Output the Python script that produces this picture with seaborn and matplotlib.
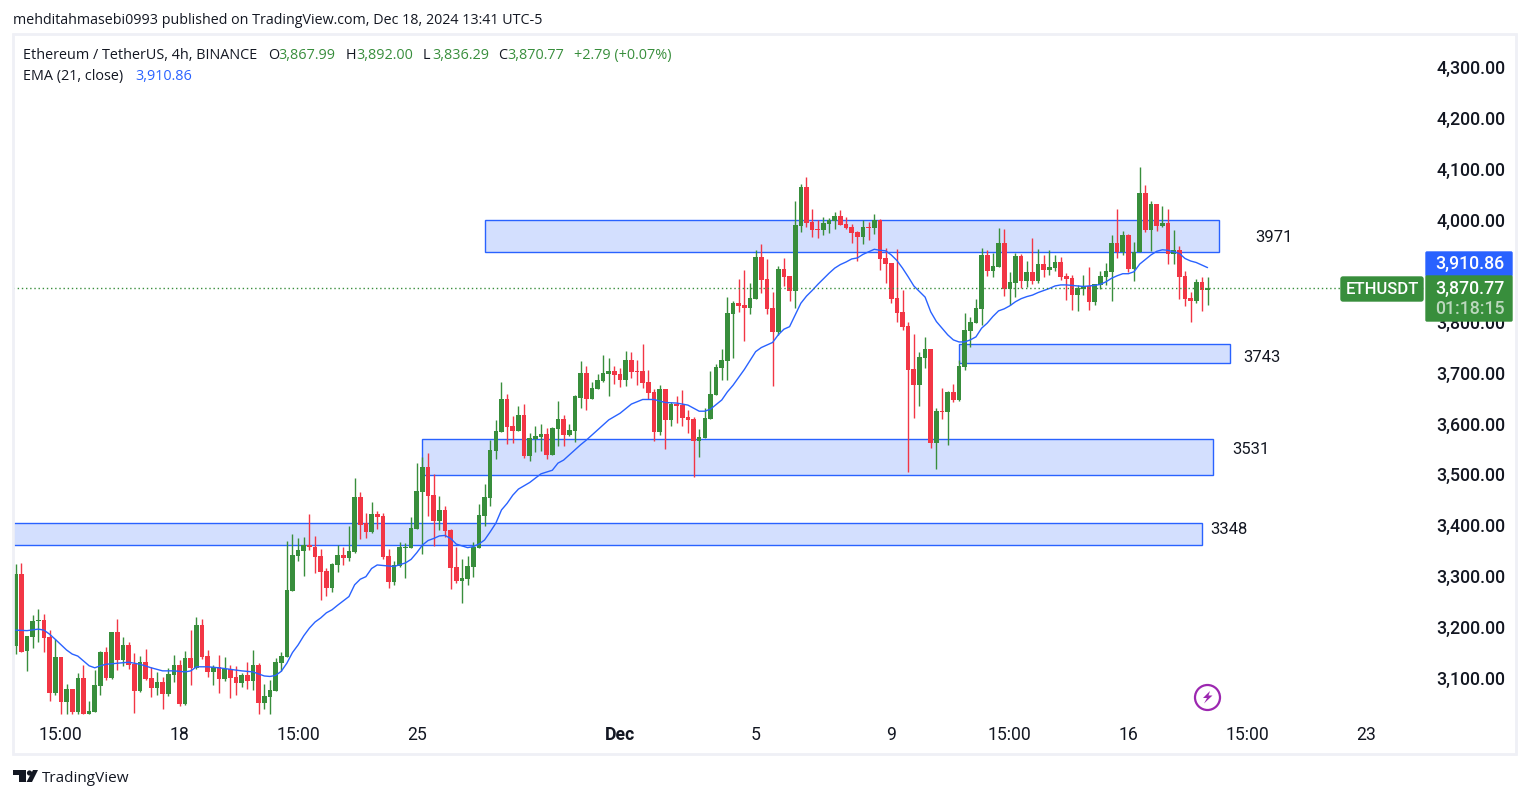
import pandas as pd
import matplotlib.pyplot as plt
import seaborn as sns
from matplotlib.patches import Rectangle, Circle, Polygon, FancyBboxPatch

# Candles, 4h ETHUSDT
opens = [3162,3304,3153,3181,3212,3214,3181,3071,3141,3053,
         3078,3033,3100,3029,3033,3084,3151,3100,3190,3135,
         3165,3128,3074,3131,3100,3080,3092,3069,3106,3126,
         3049,3139,3120,3204,3143,3112,3122,3098,3118,3102,
         3090,3106,3094,3126,3051,3063,3074,3129,3141,3271,
         3339,3349,3361,3357,3340,3310,3277,3322,3342,3336,
         3347,3455,3404,3387,3422,3418,3340,3289,3320,3355,
         3355,3393,3465,3514,3459,3408,3430,3391,3318,3291,
         3294,3318,3355,3418,3453,3546,3583,3648,3595,3585,
         3617,3536,3569,3573,3579,3538,3589,3609,3577,3585,
         3650,3699,3648,3668,3683,3697,3703,3697,3685,3724,
         3703,3703,3681,3662,3583,3668,3607,3638,3636,3613,
         3609,3565,3571,3609,3656,3709,3723,3815,3836,3832,
         3827,3844,3927,3884,3827,3779,3903,3889,3860,3988,
         4064,3996,3982,3980,3992,3998,4007,3992,3986,3976,
         3966,3986,3984,4000,3925,3915,3846,3819,3791,3707,
         3675,3728,3746,3561,3624,3622,3662,3646,3711,3782,
         3797,3825,3931,3899,3907,3954,3864,3876,3929,3880,
         3897,3880,3913,3901,3905,3917,3890,3886,3852,3864,
         3870,3838,3872,3888,3897,3954,3936,3970,3903,3936,
         4053,3980,4031,3988,3994,3933,3941,3890,3846,3840,3878,3862]
highs = [3324,3325,3183,3224,3235,3226,3194,3177,3141,3088,
         3078,3110,3126,3055,3116,3153,3161,3190,3216,3181,
         3171,3149,3143,3157,3122,3112,3102,3120,3145,3135,
         3153,3194,3220,3216,3155,3126,3145,3141,3126,3124,
         3110,3131,3155,3129,3088,3096,3139,3151,3369,3383,
         3375,3377,3422,3379,3353,3316,3326,3361,3357,3398,
         3493,3465,3424,3446,3428,3424,3353,3330,3367,3365,
         3416,3522,3534,3542,3501,3457,3438,3393,3357,3334,
         3340,3367,3442,3481,3567,3607,3681,3658,3615,3634,
         3638,3581,3595,3599,3591,3593,3644,3617,3599,3656,
         3723,3713,3681,3697,3734,3728,3713,3709,3742,3740,
         3724,3756,3705,3668,3675,3668,3642,3654,3666,3626,
         3613,3589,3630,3703,3717,3746,3848,3840,3884,3901,
         3876,3940,3952,3923,3858,3909,3925,3889,4037,4070,
         4084,4021,4000,4005,4003,4015,4019,4005,3992,3978,
         4000,3996,4011,4001,3944,3915,3942,3862,3799,3776,
         3740,3770,3746,3630,3669,3664,3677,3724,3817,3809,
         3844,3945,3941,3935,3984,3982,3897,3935,3933,3919,
         3964,3943,3931,3941,3931,3927,3896,3892,3872,3892,
         3907,3874,3899,3915,3970,4021,3978,3972,3956,4104,
         4068,4037,4031,4027,4021,3980,3949,3899,3858,3884,3888,3888]
lows = [3147,3151,3114,3159,3171,3151,3055,3067,3029,3029,
        3029,3029,3029,3029,3033,3067,3096,3098,3116,3124,
        3118,3031,3073,3096,3063,3067,3039,3065,3092,3045,
        3047,3086,3118,3137,3102,3086,3071,3094,3061,3067,
        3082,3078,3076,3029,3039,3029,3074,3114,3141,3271,
        3330,3300,3351,3306,3253,3261,3269,3308,3322,3330,
        3345,3373,3375,3385,3393,3334,3277,3283,3318,3296,
        3355,3393,3343,3418,3359,3391,3377,3275,3287,3247,
        3283,3298,3355,3398,3438,3530,3583,3560,3562,3585,
        3532,3526,3544,3546,3530,3538,3556,3556,3575,3563,
        3630,3626,3648,3668,3681,3654,3677,3672,3673,3689,
        3675,3670,3648,3565,3577,3550,3595,3601,3595,3581,
        3495,3534,3571,3609,3656,3685,3685,3728,3819,3762,
        3815,3844,3856,3815,3673,3774,3870,3840,3827,3976,
        3986,3966,3964,3970,3974,3982,3990,3982,3954,3919,
        3952,3960,3972,3901,3876,3836,3799,3783,3504,3611,
        3634,3709,3552,3510,3609,3557,3642,3644,3705,3750,
        3797,3793,3890,3888,3907,3850,3833,3848,3866,3868,
        3874,3876,3888,3892,3899,3882,3842,3823,3821,3852,
        3823,3833,3864,3872,3840,3925,3931,3897,3880,3936,
        3976,3939,3978,3986,3913,3913,3844,3831,3799,3837,3821,3833]
closes = [3304,3152,3183,3212,3214,3179,3071,3141,3053,3078,
          3033,3100,3029,3035,3086,3151,3100,3190,3135,3165,
          3126,3074,3131,3098,3080,3092,3069,3108,3126,3049,
          3139,3120,3204,3141,3112,3122,3098,3118,3100,3090,
          3106,3094,3126,3051,3065,3076,3131,3143,3273,3342,
          3351,3361,3357,3338,3308,3277,3324,3342,3336,3349,
          3455,3400,3387,3422,3416,3338,3289,3322,3357,3357,
          3395,3467,3514,3457,3408,3430,3389,3316,3291,3296,
          3320,3357,3420,3455,3548,3585,3648,3593,3585,3617,
          3536,3571,3575,3579,3538,3591,3609,3577,3587,3653,
          3699,3648,3670,3685,3699,3703,3695,3685,3724,3701,
          3701,3679,3660,3583,3668,3607,3638,3634,3611,3607,
          3565,3573,3611,3658,3711,3724,3817,3836,3831,3827,
          3846,3927,3882,3825,3779,3903,3887,3860,3990,4064,
          3994,3980,3980,3994,4000,4007,3990,3984,3974,3966,
          3986,3984,4000,3923,3913,3844,3817,3789,3705,3675,
          3730,3746,3561,3624,3622,3662,3646,3713,3784,3799,
          3827,3931,3899,3909,3954,3864,3878,3929,3880,3897,
          3880,3913,3901,3907,3917,3888,3884,3852,3866,3870,
          3838,3874,3890,3899,3954,3936,3970,3903,3937,4053,
          3980,4031,3988,3994,3933,3941,3888,3844,3840,3878,3862,3866]

# EMA line, read at these candle numbers
ema_idx = [1,3,5,6,7,8,10,11,12,14,15,16,17,19,21,23,25,27,29,31,32,33,35,37,39,41,43,45,46,47,48,49,50,51,
           52,53,54,55,56,57,58,60,61,62,63,64,65,66,68,70,71,72,73,74,75,76,77,78,79,81,82,83,84,85,86,87,88,89,90,
           92,94,96,97,98,100,101,102,104,106,108,110,112,114,116,118,120,122,123,124,126,127,128,130,132,133,135,
           136,137,138,139,140,141,142,143,144,145,146,147,148,149,150,151,152,153,154,155,156,157,158,159,160,
           161,162,163,164,165,166,167,168,169,170,171,172,173,174,175,176,177,178,179,180,181,182,183,184,185,186,
           187,188,189,190,191,192,193,194,195,196,197,198,199,200,201,202,203,204,205,206,207,208,209,210,211,212]
ema_vals = [3194,3193,3196,3194,3186,3176,3155,3147,3143,3124,3120,3124,3127,3129,3131,3127,3120,3114,3114,3112,3114,3122,3122,3120,3117,3114,3112,3104,3103,3105,3113,3129,3150,3165,
            3183,3198,3210,3218,3228,3234,3243,3260,3283,3294,3299,3315,3322,3321,3319,3326,3333,3346,3361,3370,3374,3379,3380,3374,3363,3356,3358,3363,3371,3387,3404,3430,3443,3459,3471,
            3484,3501,3508,3522,3528,3548,3558,3567,3587,3607,3620,3638,3647,3647,3641,3640,3636,3624,3624,3628,3646,3662,3675,3706,3741,3749,3759,
            3774,3785,3790,3813,3836,3850,3861,3873,3884,3895,3905,3912,3917,3923,3925,3932,3937,3942,3940,3939,3931,3920,3905,3888,3870,
            3859,3848,3819,3800,3787,3774,3764,3760,3760,3764,3770,3787,3797,3810,3821,3825,3831,3839,3845,3849,3852,3857,3861,3865,3870,3872,
            3872,3871,3870,3869,3870,3871,3873,3878,3885,3890,3894,3894,3898,3913,3922,3931,3938,3941,3940,3937,3934,3924,3919,3916,3911,3906]

# Blue supply / demand boxes
zone_left = [84, 168, 73, 0.5]
zone_right = [214, 216, 213, 211]
zone_low = [3937, 3719, 3499, 3362]
zone_high = [3999, 3756, 3569, 3405]
zone_labels = ["3971", "3743", "3531", "3348"]

price_ticks = [3100,3200,3300,3400,3500,3600,3700,3800,4000,4100,4200,4300]
time_pos = [9,30,51,72,108,132,156,177,198,219,240]
time_labels = ["15:00","18","15:00","25","Dec","5","9","15:00","16","15:00","23"]
last_line = 3865.5

GREEN = "#388e3c"
RED = "#f23645"
BLUE = "#2962ff"
DARK = "#131722"

sns.set_theme(style="white")
plt.rcParams["font.family"] = ["Open Sans", "DejaVu Sans"]

df = pd.DataFrame({"open": opens, "high": highs, "low": lows, "close": closes})
df["n"] = range(1, len(df) + 1)
df["color"] = [GREEN if c >= o else RED for o, c in zip(df["open"], df["close"])]
ema = pd.DataFrame({"n": ema_idx, "ema": ema_vals})

W, H = 1529, 798
fig = plt.figure(figsize=(W / 100, H / 100), dpi=100, facecolor="white")
ax = fig.add_axes([13 / W, 1 - 720 / H, (1425 - 13) / W, (720 - 34) / H])

# Zones
for l, r, lo, hi in zip(zone_left, zone_right, zone_low, zone_high):
    ax.add_patch(Rectangle((l, lo), r - l, hi - lo, facecolor="#d3dffe", edgecolor=BLUE, lw=1, zorder=1))

# Candles
ax.vlines(df["n"], df["low"], df["high"], color=df["color"], lw=1, zorder=2)
ax.bar(df["n"], (df["close"] - df["open"]).abs(), bottom=df[["open", "close"]].min(axis=1),
       width=0.82, color=df["color"], linewidth=0, zorder=3)

# EMA and last price
sns.lineplot(data=ema, x="n", y="ema", color=BLUE, lw=1, ax=ax, zorder=4)
ax.axhline(last_line, color=GREEN, lw=1, ls=(0, (1, 2)), zorder=4)

ax.set_xlim(0.52, 250.5)
ax.set_ylim(3017.5, 4364.8)
ax.set_xlabel("")
ax.set_ylabel("")
ax.yaxis.tick_right()
ax.set_yticks(price_ticks)
ax.set_yticklabels([f"{p:,.2f}" for p in price_ticks], family="Roboto", fontsize=12.8,
                   fontweight="medium", color=DARK)
ax.set_xticks(time_pos)
ax.set_xticklabels(time_labels, family="Roboto", fontsize=12.7, color=DARK)
ax.get_xticklabels()[4].set_fontweight("bold")
ax.tick_params(axis="y", length=0, pad=8)
ax.tick_params(axis="x", length=0, pad=4)
sns.despine(ax=ax, left=True, right=True, top=True, bottom=True)

# Overlay in pixel coordinates for the TradingView furniture
ov = fig.add_axes([0, 0, 1, 1], zorder=5)
ov.set_xlim(0, W)
ov.set_ylim(H, 0)
ov.axis("off")
ov.patch.set_alpha(0)

ov.add_patch(Rectangle((13, 34), 1503, 720, fill=False, edgecolor="#eff0f6", lw=2))

ov.text(13, 20.5, "mehditahmasebi0993 published on TradingView.com, Dec 18, 2024 13:41 UTC-5",
        fontsize=10.3, color=DARK, va="center")
ov.text(23, 55.5, "Ethereum / TetherUS, 4h, BINANCE", fontsize=10.4, color=DARK, va="center")
for x, s, c in [(268, "O", DARK), (278, "3,867.99", GREEN), (346, "H", DARK), (356, "3,892.00", GREEN),
                (423, "L", DARK), (432, "3,836.29", GREEN), (498, "C", DARK), (507, "3,870.77", GREEN),
                (574, "+2.79 (+0.07%)", GREEN)]:
    ov.text(x, 55.5, s, fontsize=10.4, color=c, va="center")
ov.text(23, 76.5, "EMA (21, close)", fontsize=10.4, color=DARK, va="center")
ov.text(135, 76.5, "3,910.86", fontsize=10.4, color=BLUE, va="center")

for x, y, s in zip([1255, 1243, 1232, 1210], [237, 357, 450, 529], zone_labels):
    ov.text(x, y, s, family="Roboto", fontsize=12, color=DARK, va="center")

# Price labels on the right
ov.add_patch(FancyBboxPatch((1426, 252), 86, 24, boxstyle="round,pad=0,rounding_size=1", fc=BLUE, ec=BLUE, lw=1))
ov.add_patch(FancyBboxPatch((1426, 276), 86, 45, boxstyle="round,pad=0,rounding_size=1", fc=GREEN, ec=GREEN, lw=1))
ov.add_patch(FancyBboxPatch((1341, 277), 82, 24, boxstyle="round,pad=0,rounding_size=2", fc=GREEN, ec=GREEN, lw=1))
ov.text(1505, 263.5, "3,910.86", family="Roboto", fontsize=12.8, fontweight="medium", color="white", ha="right", va="center")
ov.text(1505, 288.5, "3,870.77", family="Roboto", fontsize=12.8, fontweight="medium", color="white", ha="right", va="center")
ov.text(1505, 308.5, "01:18:15", family="Roboto", fontsize=12.8, fontweight="medium", color="#bcd8be", ha="right", va="center")
ov.text(1382, 289, "ETHUSDT", family="Roboto", fontsize=12, fontweight="medium", color="white", ha="center", va="center")

# Lightning badge
ov.add_patch(Circle((1207.5, 697.5), 12.5, fc="white", ec="#9c27b0", lw=1.6))
ov.add_patch(Polygon([(1210, 691), (1203, 698), (1207, 698), (1204, 703.5), (1212.5, 695.5), (1208.5, 695.5)], fc="#9c27b0", ec="none"))

# Logo
ov.add_patch(Polygon([(13, 770), (26, 770), (26, 782), (19, 782), (19, 775), (13, 775)], fc=DARK, ec="none"))
ov.add_patch(Circle((29.5, 773), 2.6, fc=DARK, ec="none"))
ov.add_patch(Polygon([(33, 770), (38, 770), (32, 782), (26.5, 782)], fc=DARK, ec="none"))
ov.text(42, 778, "TradingView", fontsize=11, color=DARK, va="center")

plt.savefig("out.png", dpi=100)
